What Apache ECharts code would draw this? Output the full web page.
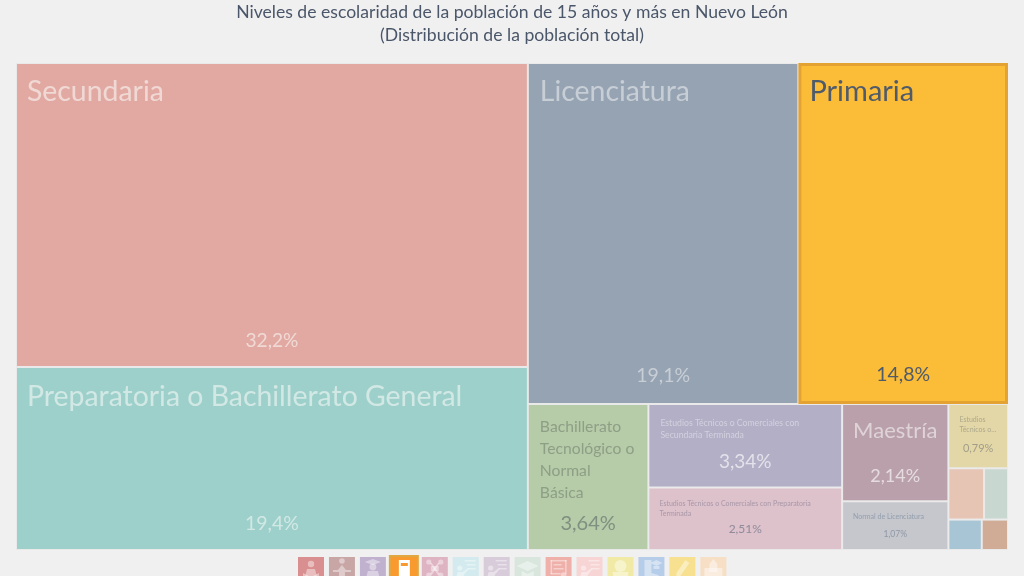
<!DOCTYPE html>
<html>
<head>
<meta charset="utf-8">
<style>html,body{margin:0;padding:0;background:#f0f0f0}#chart{width:1024px;height:576px}</style>
<script src="https://cdn.jsdelivr.net/npm/echarts@6/dist/echarts.min.js"></script>
</head>
<body>
<div id="chart"></div>
<script>
// Schooling levels, population aged 15+, Nuevo León (% of total)
const names = ['Secundaria','Preparatoria o Bachillerato General','Licenciatura','Primaria',
  'Bachillerato Tecnológico o Normal Básica','Estudios Técnicos o Comerciales con Secundaria Terminada',
  'Estudios Técnicos o Comerciales con Preparatoria Terminada','Maestría','Normal de Licenciatura',
  'Estudios Técnicos o Comerciales con Primaria Terminada','Sin escolaridad','Preescolar','Doctorado','Normal de Primaria'];
const values = [32.2,19.4,19.1,14.8,3.64,3.34,2.51,2.14,1.07,0.79,0.38,0.255,0.21,0.165];
const nameLabels = ['Secundaria','Preparatoria o Bachillerato General','Licenciatura','Primaria',
  'Bachillerato\nTecnológico o\nNormal\nBásica','Estudios Técnicos o Comerciales con\nSecundaria Terminada',
  'Estudios Técnicos o Comerciales con Preparatoria\nTerminada','Maestría','Normal de Licenciatura',
  'Estudios\nTécnicos o...','','','',''];
const valueLabels = ['32,2%','19,4%','19,1%','14,8%','3,64%','3,34%','2,51%','2,14%','1,07%','0,79%','','','',''];
const fills = ['#e2a9a2','#9dd0ca','#96a3b3','#fbbc38','#b6cba8','#b3afc7','#ddc1cb','#b9a0ab','#c5c7cc','#e3d7a8','#e7c5b5','#c9d7d1','#a7c5d5','#d0ab95'];
const nameColors = ['#f0d9d5','#d2e8e5','#c7ced6','#4f5b6b','#8d9f85','#d3d1de','#a898a8','#dfd3d8','#939eae','#ada88a','','','',''];
const valueColors = ['#f0d9d5','#d2e8e5','#c7ced6','#4f5b6b','#7f9080','#e3e2ea','#8f8a9a','#e6dce0','#8f98a6','#a19d88','','','',''];
const nameSizes = [28.4,28.4,28.4,29,15.7,8.7,7,22,7,7,0,0,0,0];
const valueSizes = [19.2,19.5,19.5,19.5,20,19,12,18,8.5,11,0,0,0,0];
const namePads = [[9,10],[10,10],[9,11],[6,8],[11,11],[12,11],[11,10],[11,10],[10,10],[10,10],[0,0],[0,0],[0,0],[0,0]];
const valueBottoms = [16,15,17,16,15,15,14,15,10,13,0,0,0,0];

const footerColors = ['#d98f8f','#c9a6a6','#c0b2cf','#f89a2e','#dfb4c2','#d3ebee','#d8ccdb','#d8e6dd','#efb0aa','#f7d5d5','#f1eaa6','#b6cde9','#f7e090','#f7dfc6'];
const footerGlyph = 'rgba(255,255,255,0.42)';
const footerStart = 298, footerStep = 30.95, footerTop = 557, footerSize = 26;

const FONT = 'Lato,"Liberation Sans",sans-serif';

const layoutBox = {left:16, top:63, width:992, height:487};

const nameData = names.map((n,i)=>({
  name:n, value:values[i],
  itemStyle: i===3 ? {color:fills[i], borderColor:'#e3a232', borderWidth:3} : {color:fills[i], borderColor:'#e9e9e9', borderWidth:1},
  label:{show:!!nameLabels[i], position:'insideTopLeft', formatter:nameLabels[i], color:nameColors[i],
    fontSize:nameSizes[i], fontFamily:FONT, lineHeight:nameSizes[i]*(i===4?1.4:1.35),
    padding:[namePads[i][0],0,0,namePads[i][1]], overflow:'none'}
}));
// Percentages sit on a second, fill-less pass of the same tiles
const valueData = names.map((n,i)=>({
  name:n, value:values[i],
  itemStyle:{color:'rgba(0,0,0,0)', borderColor:'rgba(0,0,0,0)', borderWidth:i===3?3:1},
  label:{show:!!valueLabels[i], position:'insideBottom', formatter:valueLabels[i], color:valueColors[i],
    fontSize:valueSizes[i], fontFamily:FONT, padding:[0,0,valueBottoms[i],0], overflow:'none'}
}));

function treemapSeries(data){
  return Object.assign({type:'treemap', roam:false, nodeClick:false, silent:true, animation:false,
    breadcrumb:{show:false}, data:data, sort:'desc',
    itemStyle:{gapWidth:0}, levels:[{itemStyle:{gapWidth:0,borderWidth:0,borderColor:'rgba(0,0,0,0)'}}]}, layoutBox);
}

// Pictograms for the footer buttons, sized on a 26px tile
const G = footerGlyph;
const person = [{t:'c',x:13,y:7,r:3.2},{t:'p',pts:[[7,20],[9,12],[17,12],[19,20]]}];
const teacher = [{t:'c',x:7,y:11,r:2.6},{t:'p',pts:[[3,22],[5,15],[10,15],[15,11],[16,12],[11,18],[11,22]]},
  {t:'r',x:12,y:3,w:11,h:1.5},{t:'r',x:14,y:7,w:9,h:1.5},{t:'r',x:15,y:11,w:8,h:1.5}];
const pictograms = [
  person.concat([{t:'p',pts:[[5,16],[13,20],[21,16],[21,22],[13,26],[5,22]]}]),
  [{t:'c',x:13,y:4,r:2.8},{t:'p',pts:[[9,13],[13,8],[17,13]]},{t:'r',x:4,y:13,w:18,h:2},{t:'r',x:10,y:15,w:6,h:8}],
  [{t:'p',pts:[[5,5],[13,2],[21,5],[13,8]]},{t:'c',x:13,y:10,r:3.4},{t:'p',pts:[[6,22],[8,14],[18,14],[20,22]]}],
  [],
  [{t:'c',x:7,y:5,r:2.6},{t:'c',x:19,y:5,r:2.6},{t:'c',x:7,y:18,r:2.6},{t:'c',x:19,y:18,r:2.6},{t:'r',x:9,y:9,w:8,h:5},
    {t:'p',pts:[[8,6],[10,6],[18,17],[16,18]]},{t:'p',pts:[[18,6],[16,6],[8,17],[10,18]]}],
  teacher, teacher,
  [{t:'p',pts:[[2,9],[13,4],[24,9],[13,14]]},{t:'p',pts:[[7,14],[13,17],[19,14],[19,20],[7,20]]}],
  [{t:'r',x:5,y:3,w:16,h:1.5},{t:'r',x:5,y:3,w:1.5,h:14},{t:'r',x:19.5,y:3,w:1.5,h:14},{t:'r',x:8,y:7,w:8,h:1.5},{t:'r',x:8,y:11,w:10,h:1.5},{t:'r',x:5,y:16,w:10,h:1.5},{t:'c',x:18,y:18,r:2.8}],
  teacher,
  [{t:'c',x:13,y:9,r:6},{t:'p',pts:[[5,15],[21,15],[20,21],[6,21]]}],
  [{t:'p',pts:[[6,3],[13,3],[13,16],[20,18],[20,24],[6,24]]},{t:'p',pts:[[12,6],[18,3],[24,6],[18,9]]},{t:'r',x:15,y:9,w:6,h:3}],
  [{t:'p',pts:[[16,3],[20,6],[11,19],[7,20],[7,16]]}],
  [{t:'p',pts:[[13,2],[17,7],[9,7]]},{t:'r',x:9,y:7,w:8,h:8},{t:'r',x:4,y:11,w:18,h:11}]
];

const footer = [];
footerColors.forEach((c,i)=>{
  const x = footerStart + i*footerStep;
  if(i===3){
    footer.push({type:'rect', shape:{x:x-1,y:footerTop-1,width:footerSize+2,height:footerSize+2}, style:{fill:c,stroke:'#e0a843',lineWidth:2}});
    footer.push({type:'rect', shape:{x:x+8,y:footerTop+3,width:11,height:16}, style:{fill:'#fff'}});
    footer.push({type:'rect', shape:{x:x+10,y:footerTop+6,width:7,height:3}, style:{fill:c}});
  } else {
    footer.push({type:'rect', shape:{x:x,y:footerTop,width:footerSize,height:footerSize}, style:{fill:c}});
    pictograms[i].forEach(g=>{
      const st={fill:G};
      if(g.t==='c') footer.push({type:'circle',shape:{cx:x+g.x,cy:footerTop+g.y,r:g.r},style:st});
      if(g.t==='r') footer.push({type:'rect',shape:{x:x+g.x,y:footerTop+g.y,width:g.w,height:g.h},style:st});
      if(g.t==='p') footer.push({type:'polygon',shape:{points:g.pts.map(p=>[x+p[0],footerTop+p[1]])},style:st});
    });
  }
});

const chart = echarts.init(document.getElementById('chart'), null, {renderer:'canvas'});
chart.setOption({
  backgroundColor:'#f0f0f0',
  animation:false,
  title:{
    text:'Niveles de escolaridad de la población de 15 años y más en Nuevo León\n(Distribución de la población total)',
    left:'center', top:1, padding:0,
    textStyle:{fontFamily:FONT, fontSize:17.6, fontWeight:'normal', color:'#4a5669', lineHeight:23, align:'center'}
  },
  series:[treemapSeries(nameData), treemapSeries(valueData)],
  graphic:{elements:footer}
});
</script>
</body>
</html>
